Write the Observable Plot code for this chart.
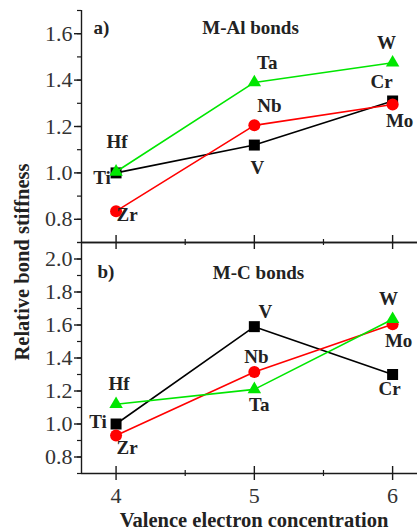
<!DOCTYPE html>
<html>
<head>
<meta charset="utf-8">
<script src="https://cdn.jsdelivr.net/npm/d3@7"></script>
<script src="https://cdn.jsdelivr.net/npm/@observablehq/plot@0.6"></script>
<style>
  body { margin: 0; background: #fff; }
  #wrap { position: relative; width: 417px; height: 531px; overflow: hidden; font-family: "Liberation Serif", "DejaVu Serif", serif; color: #222; }
  #top, #bot { position: absolute; left: 0; }
  #top { top: 0; }
  #bot { top: 236px; }
  #ylab { position: absolute; left: 22px; top: 262px; transform: translate(-50%, -50%) rotate(-90deg); font-weight: bold; font-size: 20.5px; white-space: nowrap; }
  #xlab { position: absolute; left: 254px; top: 520px; transform: translate(-50%, -50%); font-weight: bold; font-size: 20.5px; white-space: nowrap; }
</style>
</head>
<body>
<div id="wrap">
  <div id="top"></div>
  <div id="bot"></div>
  <div id="ylab">Relative bond stiffness</div>
  <div id="xlab">Valence electron concentration</div>
</div>
<script>
// ---- data ----
const valence = [4, 5, 6];
const squareNames = ["Ti", "V", "Cr"];
const circleNames = ["Zr", "Nb", "Mo"];
const triangleNames = ["Hf", "Ta", "W"];
// a) M-Al bonds
const alSquare = [1.00, 1.12, 1.31];
const alCircle = [0.835, 1.205, 1.295];
const alTriangle = [1.005, 1.39, 1.475];
// b) M-C bonds
const cSquare = [1.00, 1.59, 1.30];
const cCircle = [0.93, 1.315, 1.605];
const cTriangle = [1.12, 1.21, 1.635];
// ticks
const xTicks = [4, 5, 6];
const xMinorTicks = [4.5, 5.5];
const alYTicks = [0.8, 1.0, 1.2, 1.4, 1.6];
const cYTicks = [0.8, 1.0, 1.2, 1.4, 1.6, 1.8, 2.0];

// ---- layout / style ----
const xDomain = [3.75, 6.18];
const ink = "#1a1a1a";
const labelColor = "#222";
const fontSize = 19;
const tickFontSize = 22;
const alOffsets = {Ti: [-14, 5], V: [3, 23], Cr: [-11, -19], Zr: [11, 4], Nb: [15, -19], Mo: [7, 16], Hf: [1, -30], Ta: [13, -20], W: [-6, -20]};
const cOffsets = {Ti: [-18, -2], V: [11, -15], Cr: [-3, 14], Zr: [11, 12], Nb: [2, -15], Mo: [6, 17], Hf: [3, -20], Ta: [5, 16], W: [-4, -20]};

const rows = (vals, names) => valence.map((x, i) => ({x, y: vals[i], name: names[i]}));

function panel({sq, ci, tr, yDomain, yTicks, offsets, tag, title, titleDx, titleDy, tagDx, tagDy, height, marginTop, marginBottom, isBottom}) {
  const frameH = height - marginTop - marginBottom;
  const minorY = d3.range(Math.round(yDomain[0] * 10), Math.round(yDomain[1] * 10) + 1).map(v => v / 10);
  const series = [
    {data: rows(sq, squareNames), color: "#000", symbol: "square", r: 6.2},
    {data: rows(ci, circleNames), color: "#ff0000", symbol: "circle", r: 6},
    {data: rows(tr, triangleNames), color: "#00e600", symbol: "triangle", r: 5}
  ];
  const marks = [];
  // frame lines
  marks.push(Plot.ruleX([xDomain[0]], {stroke: ink, strokeWidth: 1.4}));
  marks.push(Plot.ruleY([yDomain[0]], {stroke: ink, strokeWidth: 1.4}));
  if (isBottom) marks.push(Plot.ruleY([yDomain[1]], {stroke: ink, strokeWidth: 1.4}));
  // inward x ticks at bottom edge
  marks.push(Plot.ruleX(xTicks, {insetTop: frameH - 7, stroke: ink, strokeWidth: 1.4}));
  marks.push(Plot.ruleX(xMinorTicks, {insetTop: frameH - 3, stroke: ink, strokeWidth: 1.2}));
  // inward x ticks at top edge (bottom panel shares line with top panel)
  if (isBottom) {
    marks.push(Plot.ruleX(xTicks, {insetBottom: frameH - 7, stroke: ink, strokeWidth: 1.4}));
    marks.push(Plot.ruleX(xMinorTicks, {insetBottom: frameH - 3, stroke: ink, strokeWidth: 1.2}));
    marks.push(Plot.axisX({ticks: xTicks, label: null, tickSize: 7, tickPadding: 7, tickFormat: d3.format("d"), stroke: ink, strokeWidth: 1.4, fill: "#333", fontSize: tickFontSize}));
    marks.push(Plot.axisX({ticks: xMinorTicks, label: null, tickSize: 3, text: null, stroke: ink, strokeWidth: 1.2}));
  }
  // y axis
  marks.push(Plot.axisY({ticks: yTicks, label: null, tickSize: 7, tickPadding: 2, tickFormat: d3.format(".1f"), stroke: ink, strokeWidth: 1.4, fill: "#333", fontSize: tickFontSize}));
  marks.push(Plot.axisY({ticks: minorY, label: null, tickSize: 4, text: null, stroke: ink, strokeWidth: 1.2}));
  // series
  for (const s of series) {
    marks.push(Plot.line(s.data, {x: "x", y: "y", stroke: s.color, strokeWidth: 1.6}));
    marks.push(Plot.dot(s.data, {x: "x", y: "y", symbol: () => s.symbol, r: s.r, fill: s.color, stroke: "none"}));
  }
  // element labels
  for (const s of series) {
    for (const d of s.data) {
      const [dx, dy] = offsets[d.name];
      marks.push(Plot.text([d], {x: "x", y: "y", text: "name", dx, dy, fontWeight: "bold", fontSize, fill: labelColor}));
    }
  }
  // panel tag and title
  marks.push(Plot.text([tag], {frameAnchor: "top-left", text: d => d, dx: tagDx, dy: tagDy, textAnchor: "start", fontWeight: "bold", fontSize, fill: labelColor}));
  marks.push(Plot.text([title], {frameAnchor: "top", text: d => d, dx: titleDx, dy: titleDy, fontWeight: "bold", fontSize, fill: labelColor}));

  return Plot.plot({
    width: 417,
    height,
    marginLeft: 81,
    marginRight: 0,
    marginTop,
    marginBottom,
    x: {domain: xDomain, axis: null},
    y: {domain: yDomain, axis: null},
    symbol: {type: "identity"},
    style: {fontFamily: "'Liberation Serif', 'DejaVu Serif', serif", fontSize: fontSize + "px", background: "transparent", overflow: "visible", color: ink},
    marks
  });
}

document.getElementById("top").append(panel({
  sq: alSquare, ci: alCircle, tr: alTriangle,
  yDomain: [0.7, 1.7], yTicks: alYTicks, offsets: alOffsets,
  tag: "a)", title: "M-Al bonds", tagDx: 12, tagDy: 10, titleDx: 1, titleDy: 10,
  height: 248, marginTop: 10, marginBottom: 6, isBottom: false
}));
document.getElementById("bot").append(panel({
  sq: cSquare, ci: cCircle, tr: cTriangle,
  yDomain: [0.7, 2.1], yTicks: cYTicks, offsets: cOffsets,
  tag: "b)", title: "M-C bonds", tagDx: 16, tagDy: 22, titleDx: 9, titleDy: 23,
  height: 295, marginTop: 6, marginBottom: 58, isBottom: true
}));
</script>
</body>
</html>
